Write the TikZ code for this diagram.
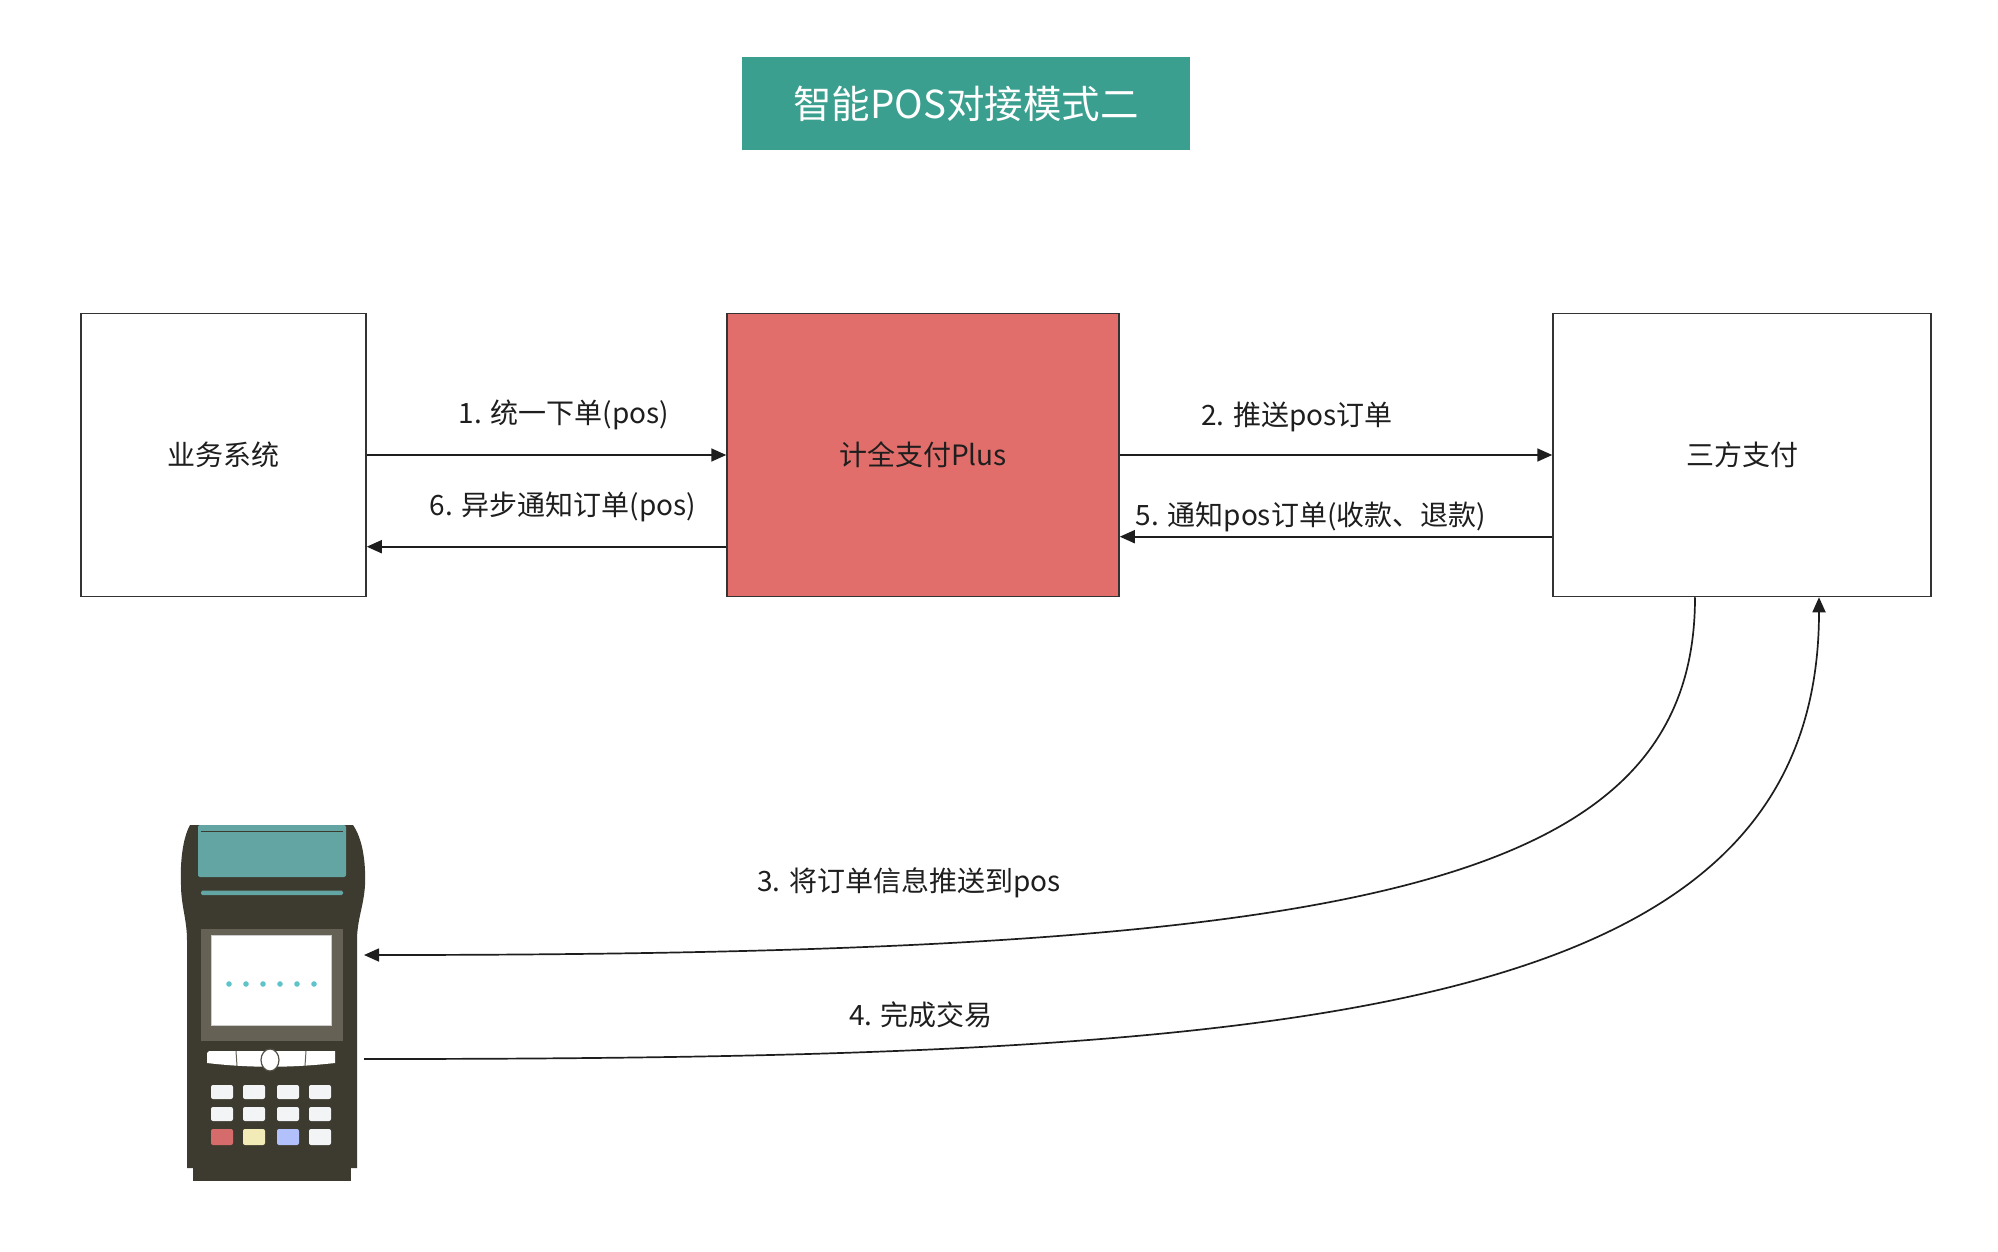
\documentclass[tikz,border=0pt]{standalone}
\usepackage{fontspec}
\setmainfont{Noto Sans CJK SC}
\usetikzlibrary{arrows.meta}

\begin{document}
\begin{tikzpicture}[x=1pt,y=-1pt,
    box/.style={draw=line_gray,line width=1.5pt,minimum width=#1,minimum height=283pt,
        inner sep=0pt,font=\fontsize{28}{33}\selectfont,text=line_dark},
    flow/.style={draw=line_dark,line width=1.7pt,-{Triangle[length=15pt,width=13pt]}},
    lbl/.style={font=\fontsize{28}{33}\selectfont,text=line_dark,inner sep=0pt}]
    \definecolor{line_dark}{HTML}{1E1E1E}
    \definecolor{line_gray}{HTML}{333333}
    \definecolor{title_teal}{HTML}{3A9F8E}
    \definecolor{plus_red}{HTML}{E16E6A}
    \definecolor{pos_body}{HTML}{3D3A2F}
    \definecolor{pos_teal}{HTML}{63A5A3}
    \definecolor{pos_bezel}{HTML}{656155}
    \definecolor{pos_dot}{HTML}{5EC4CA}
    \definecolor{key_white}{HTML}{F3F4F6}
    \definecolor{key_red}{HTML}{D66B6B}
    \definecolor{key_yellow}{HTML}{F2EBB8}
    \definecolor{key_blue}{HTML}{B2C0FB}
    %\draw[help lines,step=100] (0,0) grid (1998,1252);
    \useasboundingbox (0,0) rectangle (1998,1252);

    \node[fill=title_teal,minimum width=448pt,minimum height=93pt,text=white,
        font=\fontsize{38.5}{46}\selectfont] (title) at (966,103.5) {智能POS对接模式二};

    \node[box=285pt] (biz) at (223.5,455) {业务系统};
    \node[box=392pt,fill=plus_red] (plus) at (923,455) {计全支付Plus};
    \node[box=378pt] (third) at (1742,455) {三方支付};

    % pos terminal
    \path[fill=pos_body] (190,825) -- (353,825) .. controls (362,838) and (366,860) .. (365,885)
        .. controls (364,905) and (357,920) .. (357,940) -- (357,1168) -- (187,1168) -- (187,940)
        .. controls (187,920) and (181,905) .. (181,885) .. controls (180,860) and (183,838) .. (190,825) -- cycle;
    \path[fill=pos_body] (193,1165) rectangle (351,1181);
    \path[fill=pos_teal,rounded corners=2pt] (198,825) rectangle (346,877);
    \draw[pos_body,line width=1.5pt] (201,831.5) -- (343,831.5);
    \path[fill=pos_teal,rounded corners=1.5pt] (201,890.5) rectangle (343,895);
    \path[fill=pos_bezel] (201,929) rectangle (343,1041);
    \path[fill=white,draw=gray!40,line width=0.8pt] (211,935) rectangle (331,1025);
    \foreach \x in {229,246,...,314}
        \path[fill=pos_dot] (\x,984) circle (2.8pt);
    \path[fill=white] (209,1051) -- (335,1051) -- (335,1063) .. controls (290,1068) and (250,1068) .. (207,1063) -- (207,1053) -- cycle;
    \draw[pos_bezel,line width=1pt] (236,1051) -- (237,1066);
    \draw[pos_bezel,line width=1pt] (306,1051) -- (305,1066);
    \draw[fill=white,draw=pos_bezel!80!black,line width=1.2pt] (270,1060) ellipse (9pt and 11pt);
    \foreach \x in {211,243,277,309}
        \foreach \y in {1085,1107}
            \path[fill=key_white,rounded corners=2pt] (\x,\y) rectangle ++(22,14);
    \foreach \x/\c in {211/key_red,243/key_yellow,277/key_blue,309/key_white}
        \path[fill=\c,rounded corners=2pt] (\x,1129) rectangle ++(22,16);
    \coordinate (pos_in) at (364,955);
    \coordinate (pos_out) at (364,1059);

    \draw[flow] (biz.east) -- (plus.west);
    \draw[flow] ([yshift=-91.7pt]plus.west) -- ([yshift=-91.7pt]biz.east);
    \draw[flow] (plus.east) -- (third.west);
    \draw[flow] ([yshift=-81.7pt]third.west) -- ([yshift=-81.7pt]plus.east);
    \draw[flow] ([xshift=-47pt]third.south) .. controls +(0,294) and +(986,0) .. (pos_in);
    \draw[flow] (pos_out) .. controls +(936,0) and +(0,424) .. ([xshift=77pt]third.south);

    \node[lbl] (l1) at (564,415) {1. 统一下单(pos)};
    \node[lbl] (l6) at (563,507) {6. 异步通知订单(pos)};
    \node[lbl] (l2) at (1297,417) {2. 推送pos订单};
    \node[lbl] (l5) at (1311,517) {5. 通知pos订单(收款、退款)};
    \node[lbl] (l3) at (909,883) {3. 将订单信息推送到pos};
    \node[lbl] (l4) at (921,1015) {4. 完成交易};
\end{tikzpicture}
\end{document}
